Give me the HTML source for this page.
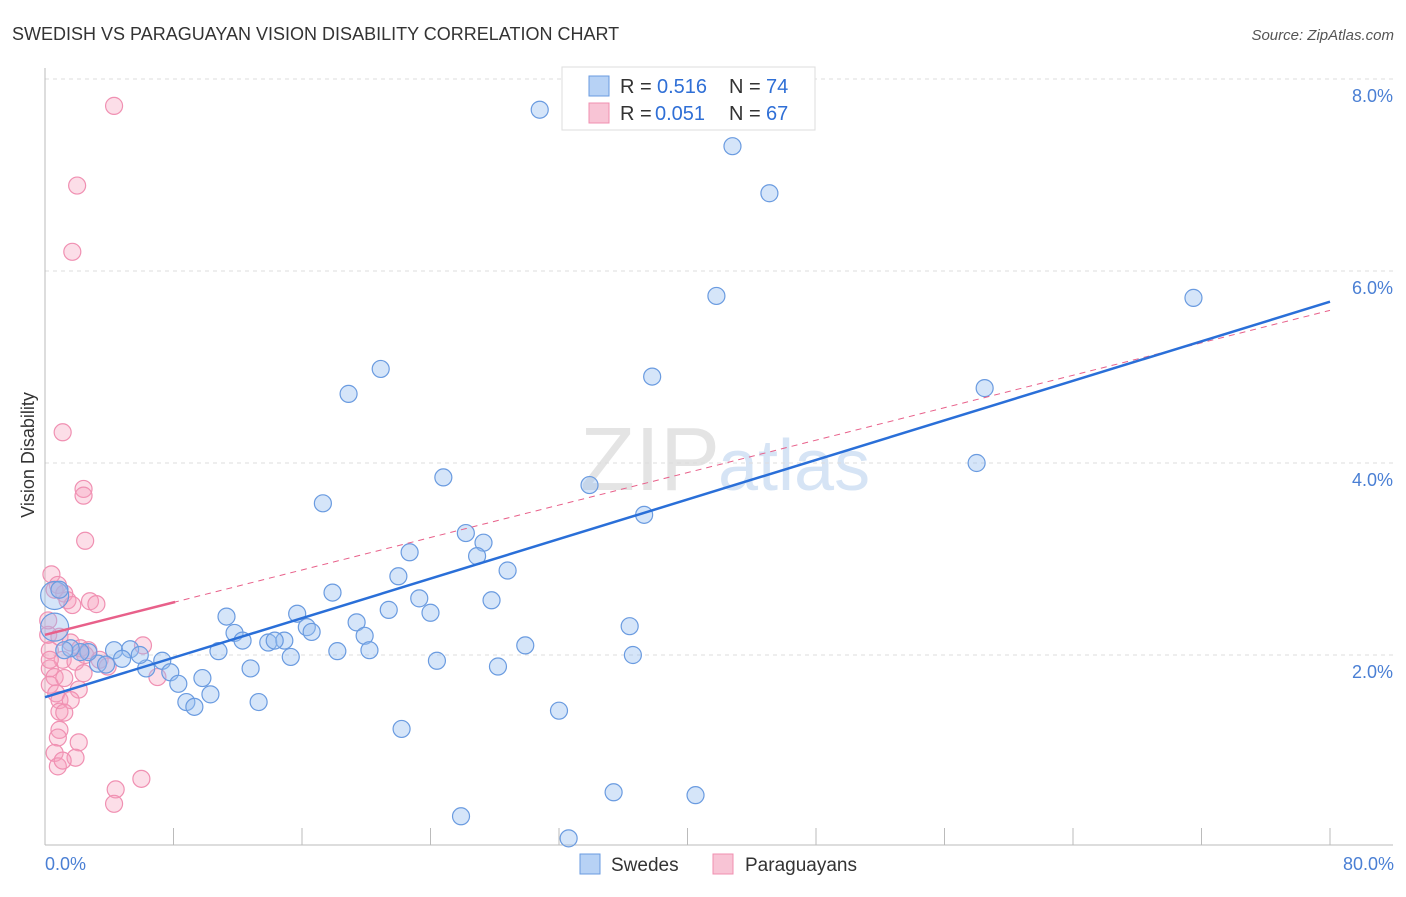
<!DOCTYPE html>
<html><head><meta charset="utf-8"><style>
body{margin:0;background:#fff;font-family:"Liberation Sans",sans-serif;}
svg text{font-family:"Liberation Sans",sans-serif;}
</style></head><body>
<svg id="c" width="1406" height="892">
<text x="12" y="40" font-size="18" fill="#333">SWEDISH VS PARAGUAYAN VISION DISABILITY CORRELATION CHART</text>
<text x="1394" y="40" font-size="15" fill="#555" font-style="italic" text-anchor="end">Source: ZipAtlas.com</text>
<text x="720" y="490" font-size="90" fill="#e4e4e4" text-anchor="end" font-family="Liberation Serif">ZIP</text>
<text x="718" y="490" font-size="72" fill="#d6e4f5">atlas</text>
<g id="grid"></g><g id="pts"></g><g id="lines"></g>
<text x="34" y="455" font-size="18" fill="#333" text-anchor="middle" transform="rotate(-90 34 455)">Vision Disability</text>
<text x="45" y="870" font-size="18" fill="#4a7fd4">0.0%</text>
<text x="1394" y="870" font-size="18" fill="#4a7fd4" text-anchor="end">80.0%</text>
<g>
<rect x="562" y="67" width="253" height="63" fill="#fff" stroke="#ddd"/>
<rect x="589" y="76" width="20" height="20" fill="#b7d2f5" stroke="#6a9be0"/>
<rect x="589" y="103" width="20" height="20" fill="#f8c4d5" stroke="#f08fb0"/>
<text x="620" y="93" font-size="20" fill="#333">R = </text><text x="657" y="93" font-size="20" fill="#2f6fd6">0.516</text>
<text x="729" y="93" font-size="20" fill="#333">N = </text><text x="766" y="93" font-size="20" fill="#2f6fd6">74</text>
<text x="620" y="120" font-size="20" fill="#333">R = </text><text x="655" y="120" font-size="20" fill="#2f6fd6">0.051</text>
<text x="729" y="120" font-size="20" fill="#333">N = </text><text x="766" y="120" font-size="20" fill="#2f6fd6">67</text>
</g>
<g>
<rect x="580" y="854" width="20" height="20" fill="#b7d2f5" stroke="#6a9be0"/>
<text x="611" y="871" font-size="19" fill="#333">Swedes</text>
<rect x="713" y="854" width="20" height="20" fill="#f8c4d5" stroke="#f08fb0"/>
<text x="745" y="871" font-size="19" fill="#333">Paraguayans</text>
</g>
</svg>
<script>
const yTicks=[2,4,6,8];
const xTicks=[0,8,16,24,32,40,48,56,64,72,80];
const swX=[30.8,42.8,45.1,41.8,71.5,37.8,20.9,18.9,58.5,58.0,24.8,33.9,17.3,37.3,26.2,27.3,22.7,26.9,28.8,22.0,17.9,23.3,27.8,21.4,24.0,11.3,15.7,19.4,36.4,16.3,16.6,11.8,19.9,12.3,13.9,14.9,14.3,29.9,18.2,20.2,10.8,15.3,36.6,24.4,7.3,12.8,28.2,6.3,7.8,9.8,8.3,10.3,8.8,9.3,13.3,32.0,22.2,35.4,40.5,25.9,32.6,4.3,5.3,5.9,4.8,3.3,3.8,2.7,2.2,1.6,0.6,0.6,0.9,1.2];
const swY=[7.68,7.30,6.81,5.74,5.72,4.90,4.98,4.72,4.78,4.00,3.85,3.77,3.58,3.46,3.27,3.17,3.07,3.03,2.88,2.82,2.65,2.59,2.57,2.47,2.44,2.40,2.43,2.34,2.30,2.29,2.24,2.23,2.20,2.15,2.13,2.15,2.15,2.10,2.04,2.05,2.04,1.98,2.00,1.94,1.94,1.86,1.88,1.86,1.82,1.76,1.70,1.59,1.51,1.46,1.51,1.42,1.23,0.57,0.54,0.32,0.09,2.05,2.06,2.00,1.96,1.91,1.90,2.03,2.03,2.07,2.29,2.62,2.68,2.05];
const swBig=[70,71];
const pyX=[4.3,2.0,1.7,1.1,2.4,2.4,2.5,0.4,0.8,0.6,1.2,1.4,2.8,3.2,1.7,0.2,0.9,1.6,6.1,0.3,2.2,2.7,1.1,1.9,3.4,3.9,0.3,2.4,0.6,1.2,7.0,0.3,2.1,0.7,0.9,1.6,0.9,1.2,0.9,0.8,2.1,0.6,1.9,0.8,1.1,4.4,6.0,4.3,0.2,0.3,2.5];
const pyY=[7.72,6.89,6.20,4.32,3.73,3.66,3.19,2.84,2.73,2.68,2.64,2.57,2.56,2.53,2.52,2.21,2.19,2.13,2.10,2.05,2.07,2.05,1.95,1.93,1.95,1.88,1.86,1.81,1.77,1.76,1.77,1.69,1.64,1.60,1.53,1.53,1.41,1.40,1.22,1.14,1.09,0.98,0.93,0.84,0.90,0.60,0.71,0.45,2.36,1.95,2.00];
const swLine=[1.56,5.68];
const pyLine=[2.21,5.59];
const pySolidEnd=8.1;
const X=v=>45+v*1285/80, Y=v=>847-v*96;
const NS="http://www.w3.org/2000/svg";
function mk(parent,tag,a){const e=document.createElementNS(NS,tag);for(const k in a)e.setAttribute(k,a[k]);document.getElementById(parent).appendChild(e);return e;}
let e;
yTicks.forEach(t=>{
 e=mk('grid','line',{x1:45,x2:1393,y1:Y(t),y2:Y(t),stroke:'#ddd','stroke-dasharray':'4,4'});
 
 
 e=mk('grid','text',{x:1393,y:Y(t)+23,'font-size':18,fill:'#4a7fd4','text-anchor':'end'});e.textContent=t.toFixed(1)+'%';
 
 
});
e=mk('grid','line',{x1:45,x2:1393,y1:845,y2:845,stroke:'#bbb'});


e=mk('grid','line',{x1:45,x2:45,y1:68,y2:845,stroke:'#bbb'});


xTicks.forEach(t=>{
 e=mk('grid','line',{x1:X(t),x2:X(t),y1:828,y2:845,stroke:'#bbb'});
 
 
});
pyX.forEach((v,i)=>{
 e=mk('pts','circle',{cx:X(v),cy:Y(pyY[i]),r:8.5,fill:'rgba(245,160,190,0.35)',stroke:'#f090b2','stroke-width':1.2});
 
 
});
swX.forEach((v,i)=>{
 e=mk('pts','circle',{cx:X(v),cy:Y(swY[i]),r:swBig.includes(i)?14:8.5,fill:'rgba(150,190,240,0.4)',stroke:'#6a9be0','stroke-width':1.2});
 
 
});
const pyAt=x=>pyLine[0]+(pyLine[1]-pyLine[0])*x/80;
e=mk('lines','line',{x1:X(0),y1:Y(pyAt(0)),x2:X(80),y2:Y(pyAt(80)),stroke:'#e8608a','stroke-width':1,'stroke-dasharray':'6,5'});


e=mk('lines','line',{x1:X(0),y1:Y(pyAt(0)),x2:X(pySolidEnd),y2:Y(pyAt(pySolidEnd)),stroke:'#e8608a','stroke-width':2.5});


e=mk('lines','line',{x1:X(0),y1:Y(swLine[0]),x2:X(80),y2:Y(swLine[1]),stroke:'#2a6fd8','stroke-width':2.5});


</script>
</body></html>
